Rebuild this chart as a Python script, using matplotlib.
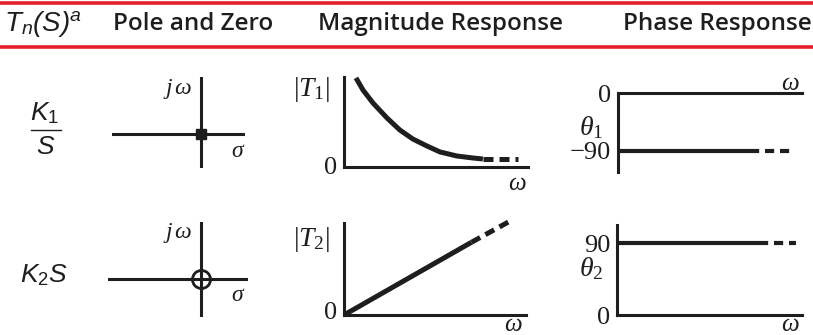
import matplotlib
matplotlib.use("Agg")
import matplotlib.pyplot as plt

W, H = 813, 335
INK = "#1e1e1e"
RED = "#e3202b"

# header
col_titles = ["Pole and Zero", "Magnitude Response", "Phase Response"]

# singularities at the origin
pole_re, pole_im = [0.0], [0.0]   # K1/S
zero_re, zero_im = [0.0], [0.0]   # K2*S

# |T1| = K1/w
w1 = [0.65, 1.03, 1.58, 2.34, 3.04, 3.75, 4.51, 5.22, 6.14, 7.01, 7.55]
mag1 = [9.9, 8.56, 7.1, 5.44, 4.1, 3.1, 2.33, 1.67, 1.22, 1.0, 0.89]
w1_tail = [7.55, 9.46]
mag1_tail = [0.89, 0.89]

# |T2| = K2*w
w2 = [0.0, 7.0]
mag2 = [0.0, 7.9]
w2_tail = [7.0, 9.3]
mag2_tail = [7.9, 10.4]

# phase
phase1 = -90
phase2 = 90
w_ph1 = [0.0, 7.2]
w_ph1_tail = [7.2, 9.5]
w_ph2 = [0.0, 7.7]
w_ph2_tail = [7.7, 9.7]

plt.rcParams["mathtext.fontset"] = "custom"
plt.rcParams["mathtext.rm"] = "Liberation Serif"
plt.rcParams["mathtext.it"] = "Liberation Serif:italic"
plt.rcParams["mathtext.sf"] = "Liberation Sans"
plt.rcParams["mathtext.bf"] = "Liberation Sans:italic"


def px_box(x0, y0, x1, y1):
    return [x0 / W, 1 - y1 / H, (x1 - x0) / W, (y1 - y0) / H]


def bare(ax):
    ax.set_xticks([])
    ax.set_yticks([])
    ax.patch.set_alpha(0)
    for s in ax.spines.values():
        s.set_visible(False)


def show_spines(ax, names):
    for s in names:
        ax.spines[s].set_visible(True)
        ax.spines[s].set_linewidth(2.2)
        ax.spines[s].set_color(INK)


fig = plt.figure(figsize=(W / 100, H / 100), dpi=100)
bg = fig.add_axes([0, 0, 1, 1])
bg.set_xlim(0, W)
bg.set_ylim(H, 0)
bg.axis("off")

# header band
bg.axhline(3, color=RED, lw=2.6)
bg.axhline(47, color=RED, lw=2.6)
bg.text(4, 24, r"$\mathbf{T}_{\mathbf{n}}\mathbf{(S)}^{\mathbf{a}}$",
        fontsize=20, color=INK, va="center", ha="left")
for x, title in zip([113, 318, 623], col_titles):
    bg.text(x, 24, title, fontsize=17.5, family="Open Sans", fontweight="semibold",
            color=INK, va="center", ha="left")

# row labels
bg.text(45, 113, r"$\mathbf{K}_{\mathsf{1}}$", fontsize=19, color=INK, ha="center", va="center")
bg.plot([31, 61], [130, 130], color=INK, lw=1.0)
bg.text(46, 147, r"$\mathbf{S}$", fontsize=19, color=INK, ha="center", va="center")
bg.text(44, 275, r"$\mathbf{K}_{\mathsf{2}}\mathbf{S}$", fontsize=19, color=INK,
        ha="center", va="center")

serif = dict(family="Liberation Serif", color=INK)

# pole-zero plots
for (x0, y0, x1, y1), ylim, re, im, is_pole, ty in [
    ((112, 77, 245, 168), (-0.6, 1), pole_re, pole_im, True, 89),
    ((108, 222, 248, 317), (-0.67, 1), zero_re, zero_im, False, 233),
]:
    ax = fig.add_axes(px_box(x0, y0, x1, y1))
    bare(ax)
    ax.set_xlim(-2, 1)
    ax.set_ylim(*ylim)
    ax.axhline(0, color=INK, lw=2.2)
    ax.axvline(0, color=INK, lw=2.2)
    if is_pole:
        ax.plot(re, im, "s", color=INK, ms=7, clip_on=False)
    else:
        ax.plot(re, im, "o", mfc="none", mec=INK, mew=2.0, ms=13, clip_on=False)
    bg.text(178, ty, "$j\\,\\omega$", fontsize=17, color=INK, ha="center", va="center")
    bg.text(238, ty + 61, "$\\sigma$", fontsize=17, color=INK, ha="center", va="center")

# magnitude plots
ax = fig.add_axes(px_box(344, 77, 528, 167))
bare(ax)
ax.set_xlim(0, 10)
ax.set_ylim(0, 10)
show_spines(ax, ("left", "bottom"))
ax.plot(w1, mag1, color=INK, lw=3.6, solid_capstyle="butt", solid_joinstyle="round",
        clip_on=False)
ax.plot(w1_tail, mag1_tail, color=INK, lw=3.6, ls=(0, (2.0, 1.2)), clip_on=False)

ax = fig.add_axes(px_box(344, 223, 526, 315))
bare(ax)
ax.set_xlim(0, 10)
ax.set_ylim(0, 10)
show_spines(ax, ("left", "bottom"))
ax.plot(w2, mag2, color=INK, lw=3.6, solid_capstyle="butt", clip_on=False)
ax.plot(w2_tail, mag2_tail, color=INK, lw=3.6, ls=(0, (2.0, 1.2)), clip_on=False)

for ytop, n in [(89, 1), (240, 2)]:
    bg.text(311, ytop, "$|T_{" + str(n) + "}|$", fontsize=20, color=INK,
            ha="center", va="center")
bg.text(331, 168, "0", fontsize=19, ha="center", va="center", **serif)
bg.text(331, 313, "0", fontsize=19, ha="center", va="center", **serif)
bg.text(517, 183, "$\\omega$", fontsize=18, color=INK, ha="center", va="center")
bg.text(513, 324, "$\\omega$", fontsize=18, color=INK, ha="center", va="center")

# phase plots
ax = fig.add_axes(px_box(618, 93, 802, 172))
bare(ax)
ax.set_xlim(0, 10)
ax.set_ylim(-123, 0)
show_spines(ax, ("left", "top"))
ax.plot(w_ph1, [phase1] * 2, color=INK, lw=3.0, solid_capstyle="butt", clip_on=False)
ax.plot(w_ph1_tail, [phase1] * 2, color=INK, lw=3.0, ls=(0, (2.2, 1.4)), clip_on=False)
ax.set_yticks([0, phase1])
ax.set_yticklabels(["0", "\u221290"], fontsize=19, **serif)
ax.tick_params(axis="y", length=0, pad=5)

ax = fig.add_axes(px_box(617, 225, 802, 315))
bare(ax)
ax.set_xlim(0, 10)
ax.set_ylim(0, 113)
show_spines(ax, ("left", "bottom"))
ax.plot(w_ph2, [phase2] * 2, color=INK, lw=3.0, solid_capstyle="butt", clip_on=False)
ax.plot(w_ph2_tail, [phase2] * 2, color=INK, lw=3.0, ls=(0, (2.2, 1.4)), clip_on=False)
ax.set_yticks([0, phase2])
ax.set_yticklabels(["0", "90"], fontsize=19, **serif)
ax.tick_params(axis="y", length=0, pad=5)

bg.text(591, 127, "$\\theta_1$", fontsize=20, color=INK, ha="center", va="center")
bg.text(591, 268, "$\\theta_2$", fontsize=20, color=INK, ha="center", va="center")
bg.text(790, 83, "$\\omega$", fontsize=18, color=INK, ha="center", va="center")
bg.text(790, 324, "$\\omega$", fontsize=18, color=INK, ha="center", va="center")

fig.savefig("out.png", dpi=100)
